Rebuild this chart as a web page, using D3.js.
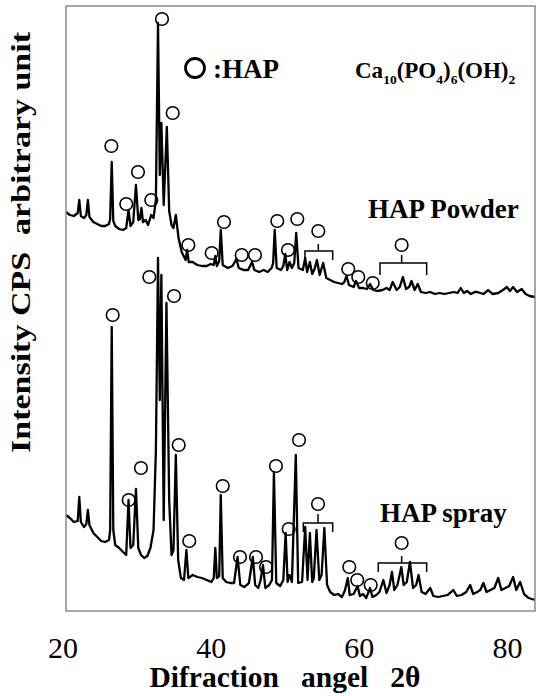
<!DOCTYPE html>
<html>
  <head>
    <meta http-equiv="Content-Type" content="text/html;charset=utf-8"/>
    <script src="https://cdn.jsdelivr.net/npm/d3@7"></script>
    <style>
      body { margin: 0; background: #fff; }
      text { font-family: "Liberation Serif", "Times New Roman", serif; white-space: pre; }
    </style>
  </head>
  <body>
    <script type="text/javascript">

// XRD patterns, [2theta, intensity (arbitrary counts)]
var powder = [
  [20.0,399],[20.5,396],[21.0,395],[21.5,398],[21.7,411],[21.9,395],[22.3,393],[22.6,396],[22.8,411],[23.0,394],
  [23.5,389],[24.0,387],[24.5,385],[25.0,385],[25.5,387],[25.65,392],[25.85,449],[26.05,390],[26.3,385],[26.8,382],
  [27.3,381],[27.7,383],[28.0,401],[28.25,385],[28.6,389],[28.95,426],[29.25,391],[29.45,392],[29.65,403],[29.85,389],
  [30.2,391],[30.5,386],[30.9,396],[31.2,393],[31.5,411],[31.77,588],[32.0,436],[32.2,488],[32.5,406],[32.9,484],
  [33.2,400],[33.5,386],[33.75,383],[34.05,396],[34.4,373],[34.8,359],[35.3,351],[35.5,361],[35.7,349],[36.2,349],
  [36.8,346],[37.4,345],[38.0,345],[38.5,347],[38.9,346],[39.1,355],[39.3,345],[39.6,350],[39.8,381],[40.05,346],
  [40.7,343],[41.3,345],[41.8,352],[42.1,343],[42.7,341],[43.3,341],[43.8,349],[44.1,341],[44.7,339],[45.3,341],
  [45.8,339],[46.3,343],[46.5,348],[46.7,381],[46.95,343],[47.5,341],[47.8,345],[48.05,357],[48.3,341],[48.6,349],
  [48.9,343],[49.2,348],[49.45,378],[49.75,343],[50.3,341],[50.6,353],[50.85,339],[51.2,349],[51.5,337],[51.8,342],
  [52.1,351],[52.45,336],[52.9,348],[53.3,333],[53.8,331],[54.3,329],[54.8,328],[55.3,327],[55.6,329],[55.9,335],
  [56.2,326],[56.8,324],[57.1,330],[57.5,323],[58.0,323],[58.5,322],[58.9,327],[59.3,321],[59.8,320],[60.5,321],
  [61.0,323],[61.4,321],[61.8,329],[62.3,321],[62.7,324],[63.1,334],[63.5,322],[63.9,324],[64.2,330],[64.6,321],
  [65.0,327],[65.4,319],[66.0,318],[66.6,319],[67.2,317],[67.8,318],[68.4,317],[69.0,318],[69.6,319],[70.1,318],
  [70.5,323],[70.9,318],[71.3,320],[71.8,317],[72.3,319],[72.6,319],[73.4,317],[74.0,321],[74.6,317],[75.3,318],
  [75.9,321],[76.4,324],[76.8,320],[77.2,324],[77.7,319],[78.3,322],[78.8,317],[79.3,315],[80.0,314]
];

var spray = [
  [20.0,96],[20.5,93],[21.0,89],[21.5,90],[21.7,114],[21.9,89],[22.3,84],[22.6,87],[22.8,101],[23.0,86],
  [23.5,78],[24.0,74],[24.5,70],[25.0,69],[25.5,71],[25.65,81],[25.85,284],[26.05,81],[26.3,66],[26.8,63],
  [27.3,59],[27.7,56],[28.0,111],[28.25,63],[28.6,66],[28.95,122],[29.25,63],[29.6,56],[30.0,53],[30.4,55],
  [30.8,63],[31.2,81],[31.5,161],[31.77,353],[32.0,211],[32.2,336],[32.5,91],[32.85,308],[33.2,111],[33.5,56],
  [33.75,61],[34.05,156],[34.35,51],[34.7,33],[35.1,31],[35.4,61],[35.65,33],[36.2,36],[36.8,34],[37.4,33],
  [38.0,31],[38.6,29],[38.9,33],[39.1,63],[39.3,33],[39.6,35],[39.8,116],[40.05,33],[40.5,29],[41.0,28],
  [41.5,28],[41.95,54],[42.3,26],[42.8,24],[43.4,28],[43.9,54],[44.2,26],[44.6,23],[44.9,31],[45.2,46],
  [45.5,23],[46.0,26],[46.35,31],[46.6,139],[46.9,28],[47.4,25],[47.8,31],[48.1,78],[48.35,29],[48.6,36],
  [48.9,29],[49.4,156],[49.7,28],[50.2,29],[50.6,84],[50.9,31],[51.2,78],[51.5,29],[51.7,33],[52.05,81],
  [52.4,31],[52.7,36],[53.05,83],[53.4,26],[53.8,19],[54.3,16],[54.8,17],[55.3,14],[55.7,21],[56.05,33],
  [56.3,16],[56.8,17],[57.3,25],[57.6,15],[58.0,17],[58.4,13],[58.9,23],[59.2,14],[59.7,16],[60.1,19],
  [60.6,31],[61.0,18],[61.4,26],[61.7,39],[62.0,21],[62.4,26],[62.9,44],[63.2,26],[63.6,29],[64.0,49],
  [64.4,23],[64.8,26],[65.1,36],[65.5,19],[66.0,17],[66.6,23],[67.0,15],[67.6,14],[68.2,15],[68.8,16],
  [69.55,21],[70.0,15],[70.6,16],[71.2,19],[71.7,26],[72.1,17],[72.6,19],[73.0,21],[73.4,28],[73.8,19],
  [74.3,21],[74.8,23],[75.3,33],[75.7,21],[76.2,23],[76.7,25],[77.2,34],[77.6,21],[78.1,29],[78.6,17],
  [79.2,13],[80.0,11]
];

// HAP marker positions [2theta, intensity]
var powderMarks = [
  [25.80,465],[27.71,407],[29.21,439],[30.91,411],[32.28,592],[33.65,498],[35.65,366],[38.64,358],
  [40.21,389],[42.48,356],[44.18,356],[47.03,390],[48.40,361],[49.59,392],[52.28,380],[56.11,342],
  [57.39,334],[59.24,328],[62.94,366]
];
var sprayMarks = [
  [25.97,296],[28.02,111],[29.59,143],[30.66,334],[33.82,315],[34.42,166],[35.77,70],[40.05,125],
  [42.26,54],[44.31,54],[45.59,44],[46.86,145],[48.49,82],[49.81,171],[52.24,107],[56.24,44],
  [57.26,31],[58.98,26],[62.94,68]
];
// brackets: [from, to, centre, level, drop, stem]
var brackets = [
  [50.57,54.12,52.28,360,9,7],
  [60.17,66.14,62.94,348,12,8],
  [50.36,54.12,52.24,88,9,9],
  [59.95,66.14,62.94,48,9,7]
];
var xTicks = [20, 40, 60, 80];
// formula pieces: [text, subscript?]
var formula = [["Ca", 0], ["10", 1], ["(PO", 0], ["4", 1], [")", 0], ["6", 1], ["(OH)", 0], ["2", 1]];

var W = 550, H = 696;
var svg = d3.select("body").append("svg")
  .attr("width", W)
  .attr("height", H);

var x = d3.scaleLinear().domain([20, 80]).range([66, 535]);
var y = d3.scaleLinear().domain([0, 605]).range([611, 6]);
// tick labels sit a little left of the frame in the original
var xl = d3.scaleLinear().domain([20, 80]).range([62.5, 507]);

var line = d3.line()
  .x(function(d) { return x(d[0]); })
  .y(function(d) { return y(d[1]); });

[powder, spray].forEach(function(s) {
  svg.append("path")
    .datum(s)
    .attr("d", line)
    .attr("fill", "none")
    .attr("stroke", "#000")
    .attr("stroke-width", 2.3)
    .attr("stroke-linejoin", "round");
});

svg.selectAll("circle.mark")
  .data(powderMarks.concat(sprayMarks))
  .enter().append("circle")
  .attr("class", "mark")
  .attr("cx", function(d) { return x(d[0]); })
  .attr("cy", function(d) { return y(d[1]); })
  .attr("r", 6.3)
  .attr("fill", "none")
  .attr("stroke", "#000")
  .attr("stroke-width", 1.6);

svg.selectAll("path.brk")
  .data(brackets)
  .enter().append("path")
  .attr("class", "brk")
  .attr("d", function(b) {
    var x0 = x(b[0]), x1 = x(b[1]), xc = x(b[2]), yl = y(b[3]);
    return "M" + x0 + "," + (yl + b[4]) + "V" + yl + "H" + x1 + "V" + (yl + b[4]) +
      "M" + xc + "," + yl + "v" + (-b[5]);
  })
  .attr("fill", "none")
  .attr("stroke", "#000")
  .attr("stroke-width", 1.5);

// frame
svg.append("rect")
  .attr("x", 66).attr("y", 6)
  .attr("width", 469).attr("height", 605)
  .attr("fill", "none")
  .attr("stroke", "#8a8a8a")
  .attr("stroke-width", 1.5);

// x tick labels
var ax = svg.append("g")
  .attr("transform", "translate(0,630)")
  .call(d3.axisBottom(xl).tickValues(xTicks).tickSize(0).tickPadding(0).tickFormat(d3.format("d")));
ax.attr("font-family", null).attr("font-size", null);
ax.select(".domain").remove();
ax.selectAll("text")
  .attr("dy", null)
  .attr("y", 28)
  .attr("fill", "#000")
  .style("font-family", "'Liberation Serif', serif")
  .style("font-size", "30px");

svg.append("text")
  .attr("x", 285).attr("y", 687)
  .attr("text-anchor", "middle")
  .style("font-size", "29.5px")
  .style("font-weight", "bold")
  .text("Difraction   angel   2\u03b8");

svg.append("text")
  .attr("transform", "translate(30,242.5) rotate(-90)")
  .attr("text-anchor", "middle")
  .attr("textLength", 421)
  .attr("lengthAdjust", "spacingAndGlyphs")
  .style("font-size", "28px")
  .style("font-weight", "bold")
  .text("Intensity CPS  arbitrary unit");

// legend
svg.append("circle")
  .attr("cx", 195).attr("cy", 68).attr("r", 9.5)
  .attr("fill", "none").attr("stroke", "#000").attr("stroke-width", 2.8);
svg.append("text")
  .attr("x", 213).attr("y", 78)
  .style("font-size", "27px").style("font-weight", "bold")
  .text(":HAP");

var f = svg.append("text")
  .attr("x", 355).attr("y", 78)
  .style("font-weight", "bold");
var prevSub = 0;
formula.forEach(function(p) {
  var dy = p[1] ? 6 : (prevSub ? -6 : 0);
  f.append("tspan")
    .attr("dy", dy)
    .style("font-size", p[1] ? "13.5px" : "23px")
    .text(p[0]);
  prevSub = p[1];
});

svg.append("text")
  .attr("x", 368).attr("y", 218)
  .style("font-size", "27px").style("font-weight", "bold")
  .text("HAP Powder");
svg.append("text")
  .attr("x", 380).attr("y", 522)
  .style("font-size", "27px").style("font-weight", "bold")
  .text("HAP spray");

    </script>
  </body>
</html>
